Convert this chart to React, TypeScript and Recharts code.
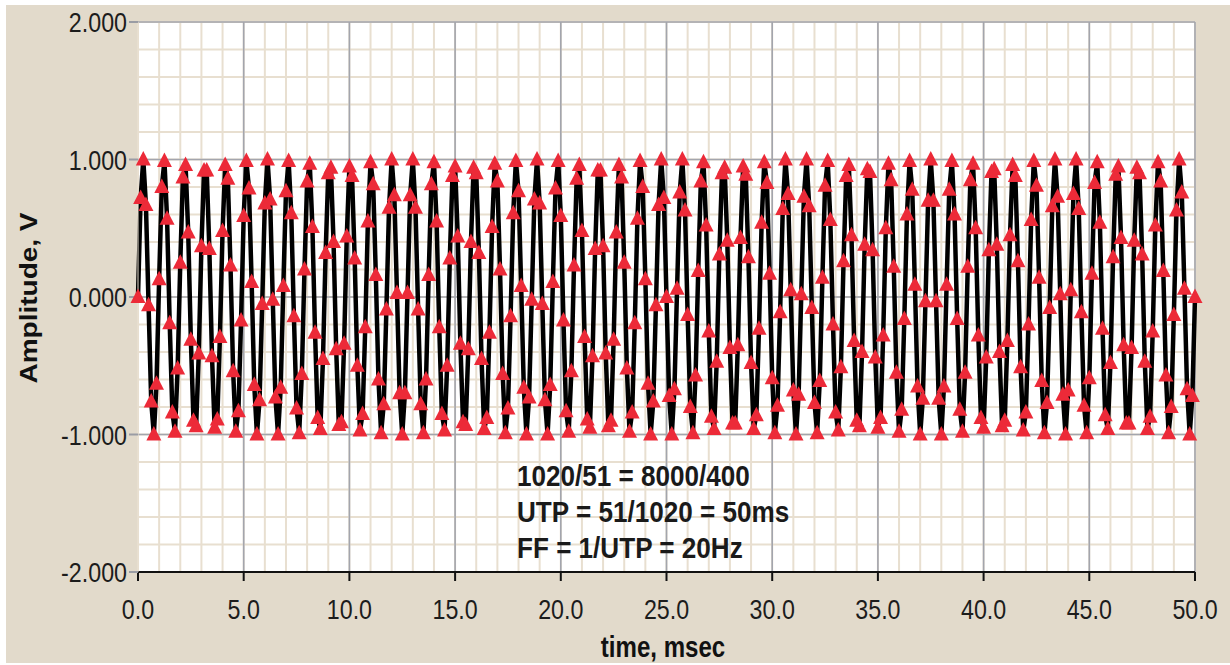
import React from 'react';
import { LineChart, Line, XAxis, YAxis, CartesianGrid } from 'recharts';

// 8000 Hz sampling of the 1020 Hz tone: one sample every 0.125 ms, 0..50 ms
const SAMPLE_MS = 0.125;

const VOLTS = [
  0, 0.72, 1.0, 0.67, -0.06, -0.76, -1.0, -0.63,
  0.13, 0.8, 0.99, 0.57, -0.19, -0.84, -0.98, -0.52,
  0.25, 0.87, 0.96, 0.47, -0.31, -0.9, -0.94, -0.41,
  0.37, 0.92, 0.92, 0.35, -0.43, -0.95, -0.89, -0.29,
  0.48, 0.96, 0.86, 0.23, -0.54, -0.98, -0.83, -0.17,
  0.59, 0.99, 0.79, 0.11, -0.64, -1.0, -0.75, -0.05,
  0.68, 1.0, 0.71, -0.02, -0.73, -1.0, -0.66, 0.08,
  0.77, 0.99, 0.61, -0.14, -0.81, -0.99, -0.56, 0.2,
  0.84, 0.97, 0.51, -0.26, -0.88, -0.96, -0.45, 0.32,
  0.9, 0.94, 0.4, -0.38, -0.93, -0.91, -0.34, 0.44,
  0.95, 0.88, 0.28, -0.5, -0.97, -0.85, -0.22, 0.55,
  0.98, 0.82, 0.16, -0.6, -0.99, -0.78, -0.09, 0.65,
  1.0, 0.74, 0.03, -0.7, -1.0, -0.7, 0.03, 0.74,
  1.0, 0.65, -0.09, -0.78, -0.99, -0.6, 0.16, 0.82,
  0.98, 0.55, -0.22, -0.85, -0.97, -0.5, 0.28, 0.88,
  0.95, 0.44, -0.34, -0.91, -0.93, -0.38, 0.4, 0.94,
  0.9, 0.32, -0.45, -0.96, -0.88, -0.26, 0.51, 0.97,
  0.84, 0.2, -0.56, -0.99, -0.81, -0.14, 0.61, 0.99,
  0.77, 0.08, -0.66, -1.0, -0.73, -0.02, 0.71, 1.0,
  0.68, -0.05, -0.75, -1.0, -0.64, 0.11, 0.79, 0.99,
  0.59, -0.17, -0.83, -0.98, -0.54, 0.23, 0.86, 0.96,
  0.48, -0.29, -0.89, -0.95, -0.43, 0.35, 0.92, 0.92,
  0.37, -0.41, -0.94, -0.9, -0.31, 0.47, 0.96, 0.87,
  0.25, -0.52, -0.98, -0.84, -0.19, 0.57, 0.99, 0.8,
  0.13, -0.63, -1.0, -0.76, -0.06, 0.67, 1.0, 0.72,
  0,
  -0.72, -1.0, -0.67, 0.06, 0.76, 1.0, 0.63,
  -0.13, -0.8, -0.99, -0.57, 0.19, 0.84, 0.98, 0.52,
  -0.25, -0.87, -0.96, -0.47, 0.31, 0.9, 0.94, 0.41,
  -0.37, -0.92, -0.92, -0.35, 0.43, 0.95, 0.89, 0.29,
  -0.48, -0.96, -0.86, -0.23, 0.54, 0.98, 0.83, 0.17,
  -0.59, -0.99, -0.79, -0.11, 0.64, 1.0, 0.75, 0.05,
  -0.68, -1.0, -0.71, 0.02, 0.73, 1.0, 0.66, -0.08,
  -0.77, -0.99, -0.61, 0.14, 0.81, 0.99, 0.56, -0.2,
  -0.84, -0.97, -0.51, 0.26, 0.88, 0.96, 0.45, -0.32,
  -0.9, -0.94, -0.4, 0.38, 0.93, 0.91, 0.34, -0.44,
  -0.95, -0.88, -0.28, 0.5, 0.97, 0.85, 0.22, -0.55,
  -0.98, -0.82, -0.16, 0.6, 0.99, 0.78, 0.09, -0.65,
  -1.0, -0.74, -0.03, 0.7, 1.0, 0.7, -0.03, -0.74,
  -1.0, -0.65, 0.09, 0.78, 0.99, 0.6, -0.16, -0.82,
  -0.98, -0.55, 0.22, 0.85, 0.97, 0.5, -0.28, -0.88,
  -0.95, -0.44, 0.34, 0.91, 0.93, 0.38, -0.4, -0.94,
  -0.9, -0.32, 0.45, 0.96, 0.88, 0.26, -0.51, -0.97,
  -0.84, -0.2, 0.56, 0.99, 0.81, 0.14, -0.61, -0.99,
  -0.77, -0.08, 0.66, 1.0, 0.73, 0.02, -0.71, -1.0,
  -0.68, 0.05, 0.75, 1.0, 0.64, -0.11, -0.79, -0.99,
  -0.59, 0.17, 0.83, 0.98, 0.54, -0.23, -0.86, -0.96,
  -0.48, 0.29, 0.89, 0.95, 0.43, -0.35, -0.92, -0.92,
  -0.37, 0.41, 0.94, 0.9, 0.31, -0.47, -0.96, -0.87,
  -0.25, 0.52, 0.98, 0.84, 0.19, -0.57, -0.99, -0.8,
  -0.13, 0.63, 1.0, 0.76, 0.06, -0.67, -1.0, -0.72,
  0,
];

const X_TICKS = [0, 5, 10, 15, 20, 25, 30, 35, 40, 45, 50];
const Y_TICKS = [-2, -1, 0, 1, 2];
const X_MAJOR = [5, 10, 15, 20, 25, 30, 35, 40, 45, 50];
const Y_MAJOR = [-1, 0, 1, 2];
const X_MINOR = Array.from({ length: 51 }, (_, i) => i);
const Y_MINOR = Array.from({ length: 21 }, (_, i) => -2 + i * 0.2);

const NOTES = ['1020/51 = 8000/400', 'UTP = 51/1020 = 50ms', 'FF = 1/UTP = 20Hz'];
const X_TITLE = 'time, msec';
const Y_TITLE = 'Amplitude, V';

const data = VOLTS.map((v, i) => ({ t: i * SAMPLE_MS, v }));

const FONT = "'Liberation Sans', Arial, sans-serif";
const SX = 0.83;

const XTick = (props: any) => {
  const { x, y, payload } = props;
  return (
    <g transform={`translate(${x},${y})`}>
      <text transform={`scale(${SX},1)`} x={0} y={38} textAnchor="middle" fontFamily={FONT} fontSize={28} fill="#1c1c1c">
        {Number(payload.value).toFixed(1)}
      </text>
    </g>
  );
};

const YTick = (props: any) => {
  const { x, y, payload } = props;
  return (
    <g transform={`translate(${x},${y})`}>
      <text transform={`scale(${SX},1)`} x={0} y={10} textAnchor="end" fontFamily={FONT} fontSize={28} fill="#1c1c1c">
        {Number(payload.value).toFixed(3)}
      </text>
    </g>
  );
};

const Tri = (props: any) => {
  const { cx, cy, index } = props;
  if (cx == null || cy == null) return <g key={`tri-${index}`} />;
  return (
    <polygon
      key={`tri-${index}`}
      points={`${cx},${cy - 8.5} ${cx + 7.5},${cy + 6} ${cx - 7.5},${cy + 6}`}
      fill="#ec2a38"
      stroke="none"
    />
  );
};

export default function App() {
  return (
    <div style={{ position: 'absolute', left: 0, top: 0, width: 1230, height: 665, background: '#ffffff', overflow: 'hidden' }}>
      <div style={{ position: 'absolute', left: 6, top: 5, width: 1224, height: 658, background: '#e2dacb' }} />
      <div style={{ position: 'absolute', left: 0, top: 0 }}>
        <LineChart width={1230} height={665} data={data} margin={{ top: 22, right: 35, left: 8, bottom: 8 }}>
          <CartesianGrid
            verticalValues={X_MINOR}
            horizontalValues={Y_MINOR}
            stroke="#e8dfd0"
            strokeWidth={2}
            fill="#ffffff"
            fillOpacity={1}
          />
          <CartesianGrid verticalValues={X_MAJOR} horizontalValues={Y_MAJOR} stroke="#a3a5ad" strokeWidth={1.6} />
          <XAxis
            dataKey="t"
            type="number"
            domain={[0, 50]}
            ticks={X_TICKS}
            interval={0}
            height={85}
            tickSize={9}
            tickMargin={0}
            axisLine={{ stroke: '#111', strokeWidth: 2 }}
            tickLine={{ stroke: '#111', strokeWidth: 2 }}
            tick={<XTick />}
          />
          <YAxis
            type="number"
            domain={[-2, 2]}
            ticks={Y_TICKS}
            interval={0}
            width={130}
            tickSize={9}
            tickMargin={2}
            axisLine={{ stroke: '#e8dfd0', strokeWidth: 1 }}
            tickLine={{ stroke: '#9a9ca4', strokeWidth: 2 }}
            tick={<YTick />}
          />
          <Line
            type="linear"
            dataKey="v"
            stroke="#000000"
            strokeWidth={4.5}
            strokeLinejoin="round"
            dot={Tri}
            activeDot={false}
            isAnimationActive={false}
          />
        </LineChart>
      </div>
      <svg width={1230} height={665} style={{ position: 'absolute', left: 0, top: 0, pointerEvents: 'none' }}>
        <text
          transform={`translate(37,298) scale(${SX},1) rotate(-90)`}
          textAnchor="middle"
          fontFamily={FONT}
          fontWeight="bold"
          fontSize={28}
          fill="#111"
        >
          {Y_TITLE}
        </text>
        <text
          transform={`translate(663,657) scale(${SX},1)`}
          textAnchor="middle"
          fontFamily={FONT}
          fontWeight="bold"
          fontSize={29}
          fill="#111"
        >
          {X_TITLE}
        </text>
        {NOTES.map((s, i) => (
          <text
            key={s}
            transform={`translate(517,${486 + i * 36}) scale(0.87,1)`}
            fontFamily={FONT}
            fontWeight="bold"
            fontSize={30}
            fill="#1a1a1a"
          >
            {s}
          </text>
        ))}
      </svg>
    </div>
  );
}
